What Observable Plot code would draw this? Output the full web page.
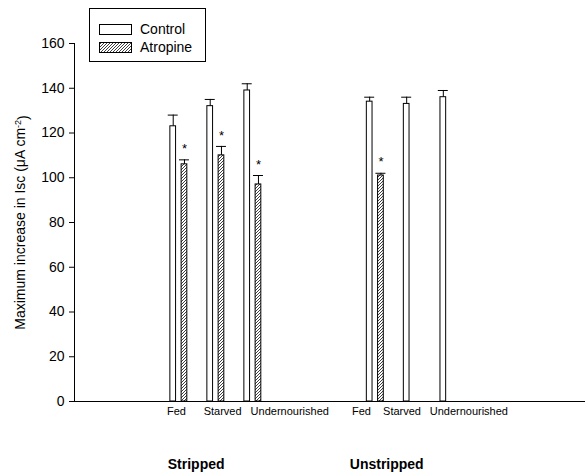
<!DOCTYPE html>
<html>
<head>
<meta charset="utf-8">
<script src="https://cdn.jsdelivr.net/npm/d3@7"></script>
<script src="https://cdn.jsdelivr.net/npm/@observablehq/plot@0.6"></script>
<style>
  html, body { margin: 0; padding: 0; background: #fff; }
  #wrap { position: relative; width: 586px; height: 473px; font-family: "Liberation Sans", Arial, sans-serif; }
  #legend { position: absolute; left: 89px; top: 8px; width: 115px; height: 52px; border: 1px solid #000; background: #fff; }
  .lrow { position: absolute; left: 9px; display: flex; align-items: center; font-size: 14px; color: #000; }
  .lrow svg { margin-right: 7px; }
</style>
</head>
<body>
<svg width="0" height="0" style="position:absolute">
  <defs>
    <pattern id="hatch" patternUnits="userSpaceOnUse" width="3" height="3">
      <rect width="3" height="3" fill="#fff"></rect>
      <path d="M-0.75,0.75 L0.75,-0.75 M0,3 L3,0 M2.25,3.75 L3.75,2.25" stroke="#000" stroke-width="0.75"></path>
    </pattern>
  </defs>
</svg>
<div id="wrap">
  <div id="chart"></div>
  <div id="legend"></div>
</div>
<script>
// ---- data ----
const conditions = ["Fed", "Starved", "Undernourished", "Fed", "Starved", "Undernourished"];
const preparations = ["Stripped", "Stripped", "Stripped", "Unstripped", "Unstripped", "Unstripped"];
const groupPos = [2.82, 3.82, 4.82, 8.13, 9.13, 10.12];
const controlMean = [123, 132, 139, 134, 133, 136];
const controlErr = [5, 3, 3, 2, 3, 3];
const atropineMean = [106, 110, 97, 101, null, null];
const atropineErr = [2, 4, 4, 1, null, null];
const atropineSig = [true, true, true, true, false, false];
const tickLabelPos = [2.5, 3.49, 4.76, 7.5, 8.34, 9.6];
const groupLabels = ["Stripped", "Unstripped"];
const groupLabelPos = [2.52, 7.44];
const yTicks = [0, 20, 40, 60, 80, 100, 120, 140, 160];
const series = ["Control", "Atropine"];
const yLabel = "Maximum increase in Isc (μA cm-2)";

// ---- build table ----
const half = 0.077, off = 0.152, cap = 0.135;
const bars = [];
groupPos.forEach((g, i) => {
  bars.push({treatment: "Control", x: g - off, mean: controlMean[i], top: controlMean[i] + controlErr[i], sig: false});
  if (atropineMean[i] != null)
    bars.push({treatment: "Atropine", x: g + off, mean: atropineMean[i], top: atropineMean[i] + atropineErr[i], sig: atropineSig[i]});
});
const tickRows = conditions.map((c, i) => ({label: c, x: tickLabelPos[i]}));
const groupRows = groupLabels.map((l, i) => ({label: l, x: groupLabelPos[i]}));

const font = "Liberation Sans, Arial, sans-serif";

const chart = Plot.plot({
  width: 586,
  height: 473,
  marginLeft: 74,
  marginRight: 1,
  marginTop: 43,
  marginBottom: 72,
  style: {fontFamily: font, fontSize: "14px", color: "#000", background: "#fff"},
  x: {domain: [0, 511 / 37], axis: null},
  y: {domain: [0, 160]},
  marks: [
    Plot.rectY(bars, {
      x1: d => d.x - half, x2: d => d.x + half, y1: 0, y2: "mean",
      fill: d => d.treatment === "Control" ? "#fff" : "url(#hatch)",
      stroke: "#000", strokeWidth: 1
    }),
    Plot.ruleX(bars, {x: "x", y1: "mean", y2: "top", stroke: "#000", strokeWidth: 1}),
    Plot.ruleY(bars, {y: "top", x1: d => d.x - cap, x2: d => d.x + cap, stroke: "#000", strokeWidth: 1}),
    Plot.text(bars.filter(d => d.sig), {x: "x", y: "top", text: () => "*", dy: -11, fontSize: 13, fill: "#000"}),
    Plot.axisY({ticks: yTicks, tickSize: 5, tickPadding: 5, fontSize: 14, label: yLabel, labelAnchor: "center", labelArrow: "none", labelOffset: 59}),
    Plot.ruleX([0], {y1: 0, y2: 160, stroke: "#000"}),
    Plot.ruleY([0], {stroke: "#000"}),
    Plot.text(tickRows, {x: "x", y: () => 0, text: "label", textAnchor: "start", lineAnchor: "top", dy: 6, fontSize: 11, fill: "#000"}),
    Plot.text(groupRows, {x: "x", y: () => 0, text: "label", textAnchor: "start", lineAnchor: "top", dy: 58, fontSize: 14, fontWeight: "bold", fill: "#000"})
  ]
});
document.getElementById("chart").appendChild(chart);

// superscript in the y label
d3.select(chart).selectAll("text").filter(function() { return this.textContent === yLabel; })
  .each(function() {
    const t = d3.select(this);
    t.text(null);
    t.append("tspan").text("Maximum increase in Isc (μA cm");
    t.append("tspan").attr("dy", "-0.45em").attr("font-size", "9px").text("-2");
    t.append("tspan").attr("dy", "0.45em").text(")");
  });

// legend
const legend = d3.select("#legend");
series.forEach((s, i) => {
  const row = legend.append("div").attr("class", "lrow").style("top", (12 + i * 18) + "px");
  const sw = row.append("svg").attr("width", 34).attr("height", 11);
  sw.append("rect").attr("x", 0.5).attr("y", 0.5).attr("width", 32).attr("height", 10)
    .attr("fill", s === "Control" ? "#fff" : "url(#hatch)").attr("stroke", "#000");
  row.append("span").text(s);
});
</script>
</body>
</html>
